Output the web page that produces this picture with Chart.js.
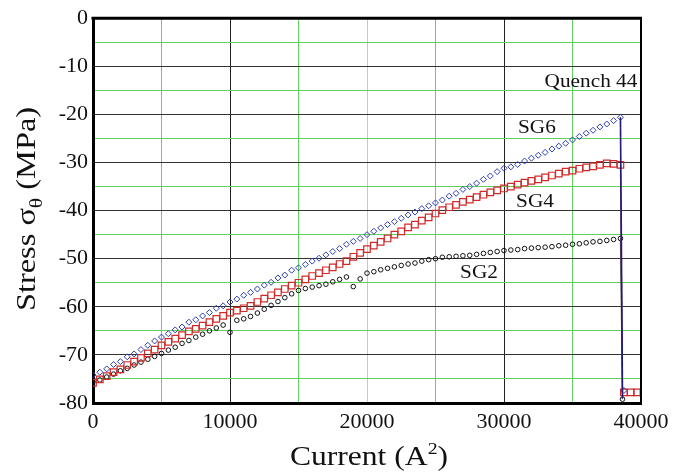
<!DOCTYPE html>
<html><head><meta charset="utf-8">
<script src="https://cdn.jsdelivr.net/npm/chart.js@4/dist/chart.umd.min.js"></script>
<style>html,body{margin:0;padding:0;background:#fff}#wrap{width:686px;height:472px;position:relative}</style>
</head><body><div id="wrap"><canvas id="c"></canvas></div>
<script>
// Current (A^2)
const current = [0,500,1000,1500,2000,2500,3000,3500,4000,4500,5000,5500,6000,6500,7000,7500,8000,8500,9000,9500,
10000,10500,11000,11500,12000,12500,13000,13500,14000,14500,15000,15500,16000,16500,17000,17500,18000,18500,19000,19500,
20000,20500,21000,21500,22000,22500,23000,23500,24000,24500,25000,25500,26000,26500,27000,27500,28000,28500,29000,29500,
30000,30500,31000,31500,32000,32500,33000,33500,34000,34500,35000,35500,36000,36500,37000,37500,38000,38500];
// Stress (MPa)
const sg6 = [-74.2,-73.6,-72.9,-72.0,-71.4,-70.4,-69.8,-68.9,-68.0,-67.1,-66.3,-65.6,-64.8,-64.2,-63.2,-62.7,-61.9,-61.2,-60.3,-59.8,
-59.0,-58.4,-57.6,-57.0,-56.3,-55.5,-54.9,-54.0,-53.4,-52.4,-51.9,-51.2,-50.5,-49.9,-49.2,-48.5,-47.9,-47.0,-46.4,-45.8,
-45.0,-44.3,-43.6,-42.9,-42.3,-41.6,-40.9,-40.3,-39.6,-39.0,-38.4,-37.8,-37.0,-36.4,-35.6,-35.0,-34.3,-33.5,-32.8,-31.9,
-31.2,-30.9,-30.4,-29.7,-29.1,-28.5,-27.9,-27.2,-26.6,-26.0,-25.3,-24.6,-23.9,-23.3,-22.6,-22.0,-21.3,-20.6];
const sg4 = [-75.8,-75.1,-74.4,-73.6,-73.0,-72.1,-71.4,-70.6,-69.7,-68.9,-68.0,-67.3,-66.6,-65.9,-65.1,-64.6,-63.9,-63.2,-62.5,-61.9,
-61.2,-60.8,-60.3,-59.8,-59.0,-58.3,-57.6,-57.0,-56.3,-55.6,-55.0,-54.3,-53.6,-53.0,-52.4,-51.8,-51.1,-50.5,-49.6,-48.8,
-48.0,-47.3,-46.5,-45.8,-45.0,-44.3,-43.5,-42.9,-42.1,-41.4,-40.6,-39.9,-39.3,-38.8,-38.2,-37.7,-37.2,-36.7,-36.2,-35.8,
-35.4,-35.0,-34.6,-34.2,-33.8,-33.5,-33.1,-32.7,-32.3,-31.9,-31.7,-31.3,-31.0,-30.8,-30.5,-30.2,-30.3,-30.5];
const sg2 = [-75.6,-75.2,-74.6,-74.0,-73.3,-72.8,-72.1,-71.5,-70.9,-70.3,-69.7,-69.0,-68.4,-67.6,-67.0,-66.3,-65.7,-65.0,-64.4,-63.8,
-65.3,-62.8,-62.5,-62.0,-61.3,-60.5,-59.7,-58.9,-58.1,-57.3,-56.6,-56.2,-55.9,-55.6,-55.3,-54.8,-54.3,-53.8,-55.8,-54.2,
-53.0,-52.7,-52.3,-52.0,-51.7,-51.4,-51.1,-50.9,-50.5,-50.2,-50.0,-49.7,-49.6,-49.5,-49.4,-49.3,-49.1,-48.9,-48.7,-48.5,
-48.3,-48.2,-48.1,-47.9,-47.8,-47.7,-47.6,-47.5,-47.3,-47.2,-47.0,-46.9,-46.7,-46.5,-46.4,-46.2,-46.0,-45.8];
// after the quench
const quenchCurrent = [38650, 38750, 39250, 39700];
const quenchSg6 = [null, -77.4, null, null];
const quenchSg4 = [null, -77.8, -77.8, -77.8];
const quenchSg2 = [-79.2, null, null, null];
// drop lines at the quench
const dropCurrent = [38500, 38650];
const dropSg6 = [-20.6, -79.0];
const dropSg4 = [-30.5, -78.0];
const dropSg2 = [-45.8, -79.2];
// tick labels
const xTickLabels = [0, 10000, 20000, 30000, 40000];
const yTickLabels = [0, -10, -20, -30, -40, -50, -60, -70, -80];
// annotations [label, current, stress]
const annotations = [["Quench 44", 36350, -12.9], ["SG6", 32400, -22.6], ["SG4", 32260, -37.8], ["SG2", 28175, -52.6]];

function pts(xs, ys) { const o = []; xs.forEach((x, i) => { if (ys[i] !== null) o.push({x: x, y: ys[i]}); }); return o; }

const SERIF = "'Liberation Serif', 'Times New Roman', serif";

function drawParts(ctx, parts, x, y, angle, sx) {
  ctx.save();
  ctx.translate(x, y);
  ctx.rotate(angle);
  ctx.scale(sx, 1);
  let total = 0;
  parts.forEach(p => { ctx.font = p.font; p.w = ctx.measureText(p.t).width; total += p.w; });
  let cx = -total / 2;
  ctx.textBaseline = 'alphabetic';
  ctx.textAlign = 'left';
  ctx.fillStyle = '#111';
  parts.forEach(p => { ctx.font = p.font; ctx.fillText(p.t, cx, p.dy || 0); cx += p.w; });
  ctx.restore();
}

const deco = {
  id: 'deco',
  afterDatasetsDraw(chart) {
    const ctx = chart.ctx, xs = chart.scales.x, ys = chart.scales.y;
    annotations.forEach(a => {
      drawParts(ctx, [{t: a[0], font: '19px ' + SERIF}], xs.getPixelForValue(a[1]), ys.getPixelForValue(a[2]) + 6.5, 0, 1.12);
    });
  },
  afterDraw(chart) {
    const ctx = chart.ctx, ca = chart.chartArea;
    ctx.save();
    ctx.strokeStyle = '#000';
    ctx.lineWidth = 3;
    ctx.beginPath(); ctx.moveTo(ca.left - 1.5, ca.top); ctx.lineTo(ca.right + 1, ca.top); ctx.stroke();
    ctx.lineWidth = 2;
    ctx.beginPath(); ctx.moveTo(ca.right, ca.top); ctx.lineTo(ca.right, ca.bottom); ctx.stroke();
    ctx.restore();
    drawParts(ctx, [
      {t: 'Current (A', font: '27px ' + SERIF},
      {t: '2', font: '17px ' + SERIF, dy: -11},
      {t: ')', font: '27px ' + SERIF}
    ], 369, 465, 0, 1.17);
    drawParts(ctx, [
      {t: 'Stress \u03c3', font: '27px ' + SERIF},
      {t: '\u03b8', font: '18px ' + SERIF, dy: 7},
      {t: ' (MPa)', font: '27px ' + SERIF}
    ], 35, 209, -Math.PI / 2, 1.2);
  }
};

const blue = '#2b3eb5', red = '#d22a2a', black = '#111111';

new Chart(document.getElementById('c'), {
  type: 'scatter',
  data: {
    datasets: [
      {label: 'SG6 drop', data: pts(dropCurrent, dropSg6), showLine: true, borderColor: '#1c1c78', borderWidth: 1.6, pointRadius: 0, order: 0},
      {label: 'SG4 drop', data: pts(dropCurrent, dropSg4), showLine: true, borderColor: '#8a2060', borderWidth: 1.2, pointRadius: 0, order: 1},
      {label: 'SG2 drop', data: pts(dropCurrent, dropSg2), showLine: true, borderColor: '#555', borderWidth: 1.2, pointRadius: 0, order: 2},
      {label: 'SG6', data: pts(current, sg6).concat(pts(quenchCurrent, quenchSg6)), showLine: false, pointStyle: 'rectRot', pointRadius: 3, borderWidth: 1, borderColor: blue, backgroundColor: 'rgba(255,255,255,0)', order: 3},
      {label: 'SG4', data: pts(current, sg4).concat(pts(quenchCurrent, quenchSg4)), showLine: false, pointStyle: 'rect', pointRadius: 4.6, borderWidth: 1.2, borderColor: red, backgroundColor: 'rgba(255,255,255,0)', order: 4},
      {label: 'SG2', data: pts(current, sg2).concat(pts(quenchCurrent, quenchSg2)), showLine: false, pointStyle: 'circle', pointRadius: 2.3, borderWidth: 1, borderColor: black, backgroundColor: 'rgba(255,255,255,0)', order: 5}
    ]
  },
  options: {
    responsive: true,
    maintainAspectRatio: false,
    animation: false,
    devicePixelRatio: 1,
    layout: {padding: {top: 18, right: 45, left: 0, bottom: 0}},
    plugins: {legend: {display: false}, tooltip: {enabled: false}},
    scales: {
      x: {
        type: 'linear', min: 0, max: 40000,
        afterFit(s) { s.height = 69; },
        border: {display: true, color: '#000', width: 3},
        grid: {
          drawTicks: false, lineWidth: 1,
          color: c => {
            const v = c.tick ? c.tick.value : 0;
            if (v === 20000) return '#c8c8c8';
            if (v % 10000 === 0) return '#222';
            return '#62d062';
          }
        },
        ticks: {
          stepSize: 5000, autoSkip: false, maxRotation: 0, padding: 6,
          color: '#111', font: {family: SERIF, size: 22},
          callback: v => xTickLabels.includes(v) ? String(v) : ''
        }
      },
      y: {
        type: 'linear', min: -80, max: 0,
        afterFit(s) { s.width = 93; },
        border: {display: true, color: '#000', width: 3},
        grid: {
          drawTicks: false, lineWidth: 1,
          color: c => {
            const v = c.tick ? c.tick.value : 0;
            return (v % 10 === 0) ? '#333' : '#62d062';
          }
        },
        ticks: {
          stepSize: 5, autoSkip: false, padding: 5,
          color: '#111', font: {family: SERIF, size: 22},
          callback: v => yTickLabels.includes(v) ? String(v) : ''
        }
      }
    }
  },
  plugins: [deco]
});
</script>
</body></html>
